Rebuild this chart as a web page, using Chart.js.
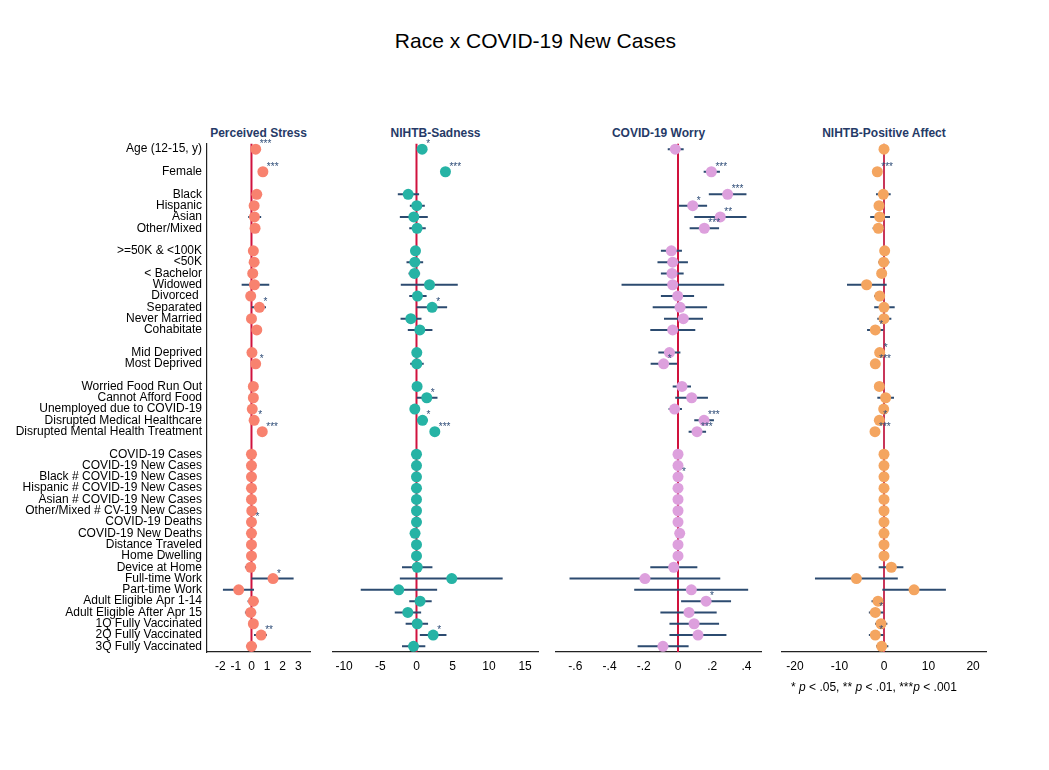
<!DOCTYPE html>
<html>
<head>
<meta charset="utf-8">
<script src="https://cdn.jsdelivr.net/npm/chart.js@4"></script>
<style>
  body { margin: 0; background: #fff; font-family: "Liberation Sans", Arial, sans-serif; }
  #wrap { position: relative; width: 1049px; height: 770px; }
  canvas { position: absolute; top: 138px; }
  .main-title { position: absolute; top: 29px; left: 0; width: 1071px; text-align: center; font-size: 21px; color: #000; }
  .ptitle { position: absolute; top: 126px; text-align: center; font-weight: bold; font-size: 12px; color: #263a67; }
  .note { position: absolute; top: 680px; left: 774px; width: 200px; text-align: center; font-size: 12px; color: #000; }
</style>
</head>
<body>
<div id="wrap">
  <div class="main-title">Race x COVID-19 New Cases</div>
  <div class="ptitle" style="left:207px;width:103px">Perceived Stress</div>
  <div class="ptitle" style="left:333px;width:205px">NIHTB-Sadness</div>
  <div class="ptitle" style="left:556px;width:205px">COVID-19 Worry</div>
  <div class="ptitle" style="left:782px;width:204px">NIHTB-Positive Affect</div>
  <canvas id="c1" width="320" height="545" style="left:0px"></canvas>
  <canvas id="c2" width="220" height="545" style="left:325px"></canvas>
  <canvas id="c3" width="220" height="545" style="left:548px"></canvas>
  <canvas id="c4" width="220" height="545" style="left:774px"></canvas>
  <div class="note">* <i>p</i> &lt; .05, ** <i>p</i> &lt; .01, ***<i>p</i> &lt; .001</div>
</div>
<script>
// row labels, '' = spacer row between groups
const rowLabels = [
  'Age (12-15, y)', '', 'Female', '',
  'Black', 'Hispanic', 'Asian', 'Other/Mixed', '',
  '>=50K & <100K', '<50K', '< Bachelor', 'Widowed', 'Divorced ', 'Separated', 'Never Married', 'Cohabitate', '',
  'Mid Deprived', 'Most Deprived', '',
  'Worried Food Run Out', 'Cannot Afford Food', 'Unemployed due to COVID-19', 'Disrupted Medical Healthcare', 'Disrupted Mental Health Treatment', '',
  'COVID-19 Cases', 'COVID-19 New Cases', 'Black # COVID-19 New Cases', 'Hispanic # COVID-19 New Cases', 'Asian # COVID-19 New Cases',
  'Other/Mixed # CV-19 New Cases', 'COVID-19 Deaths', 'COVID-19 New Deaths', 'Distance Traveled', 'Home Dwelling',
  'Device at Home', 'Full-time Work', 'Part-time Work', 'Adult Eligible Apr 1-14', 'Adult Eligible After Apr 15',
  '1Q Fully Vaccinated', '2Q Fully Vaccinated', '3Q Fully Vaccinated'
];

// Perceived Stress
const stressEst = [
  0.27, null, 0.73, null,
  0.34, 0.17, 0.19, 0.23, null,
  0.12, 0.17, 0.08, 0.19, -0.05, 0.51, 0.00, 0.34, null,
  0.03, 0.27, null,
  0.12, 0.12, 0.05, 0.17, 0.69, null,
  0.00, 0.00, 0.00, 0.00, 0.00, 0.02, 0.00, 0.00, 0.00, 0.00,
  -0.05, 1.38, -0.82, 0.12, -0.05, 0.12, 0.62, 0.00
];
const stressLo = [
  0.15, null, 0.60, null,
  0.10, -0.05, -0.21, 0.00, null,
  -0.05, -0.08, -0.12, -0.63, -0.25, 0.01, -0.20, 0.05, null,
  -0.12, 0.05, null,
  -0.10, -0.10, -0.12, 0.00, 0.45, null,
  -0.03, -0.03, -0.03, -0.03, -0.03, -0.01, -0.03, -0.03, -0.03, -0.03,
  -0.42, 0.00, -1.83, -0.25, -0.42, -0.15, 0.16, -0.33
];
const stressHi = [
  0.39, null, 0.86, null,
  0.58, 0.39, 0.62, 0.46, null,
  0.29, 0.42, 0.28, 1.14, 0.15, 0.93, 0.20, 0.60, null,
  0.18, 0.49, null,
  0.34, 0.34, 0.22, 0.34, 0.93, null,
  0.03, 0.03, 0.03, 0.03, 0.03, 0.05, 0.03, 0.03, 0.03, 0.03,
  0.23, 2.70, 0.16, 0.44, 0.30, 0.39, 0.99, 0.34
];
const stressStars = [
  '***', '', '***', '',
  '', '', '', '', '',
  '', '', '', '', '', '*', '', '', '',
  '', '*', '',
  '', '', '', '*', '***', '',
  '', '', '', '', '', '', '*', '', '', '',
  '', '*', '', '', '', '', '**', ''
];

// NIHTB-Sadness
const sadEst = [
  0.78, null, 4.00, null,
  -1.15, 0.04, -0.37, 0.08, null,
  -0.14, -0.23, -0.28, 1.80, 0.13, 2.16, -0.78, 0.46, null,
  0.04, 0.04, null,
  0.08, 1.42, -0.23, 0.83, 2.53, null,
  0.00, 0.00, 0.00, 0.00, 0.00, 0.00, 0.00, -0.20, 0.00, 0.00,
  0.10, 4.87, -2.45, 0.50, -1.20, 0.10, 2.30, -0.41
];
const sadLo = [
  0.30, null, 3.40, null,
  -2.58, -0.92, -2.30, -1.00, null,
  -0.60, -1.38, -1.10, -2.17, -1.00, 0.00, -2.20, -1.20, null,
  -0.50, -0.87, null,
  -0.40, 0.04, -0.70, 0.10, 1.90, null,
  -0.10, -0.10, -0.10, -0.10, -0.10, -0.10, -0.10, -0.30, -0.10, -0.10,
  -2.00, -2.30, -7.70, -1.00, -3.00, -1.50, 0.46, -2.00
];
const sadHi = [
  1.26, null, 4.60, null,
  0.36, 1.15, 1.56, 1.28, null,
  0.35, 0.92, 0.50, 5.70, 1.40, 4.23, 0.69, 2.20, null,
  0.55, 1.00, null,
  0.60, 2.90, 0.30, 1.55, 3.20, null,
  0.10, 0.10, 0.10, 0.10, 0.10, 0.10, 0.10, -0.10, 0.10, 0.10,
  2.20, 11.90, 2.85, 2.10, 0.64, 1.60, 4.14, 1.22
];
const sadStars = [
  '*', '', '***', '',
  '', '', '', '', '',
  '', '', '', '', '', '*', '', '', '',
  '', '', '',
  '', '*', '', '*', '***', '',
  '', '', '', '', '', '', '', '', '', '',
  '', '', '', '', '', '', '*', ''
];

// COVID-19 Worry
const worryEst = [
  -0.016, null, 0.195, null,
  0.290, 0.086, 0.247, 0.154, null,
  -0.039, -0.031, -0.035, -0.031, -0.002, 0.012, 0.031, -0.031, null,
  -0.050, -0.084, null,
  0.023, 0.080, -0.020, 0.152, 0.111, null,
  0.000, 0.000, 0.000, 0.000, 0.000, 0.000, 0.000, 0.010, 0.000, 0.000,
  -0.025, -0.193, 0.078, 0.164, 0.064, 0.094, 0.117, -0.088
];
const worryLo = [
  -0.060, null, 0.150, null,
  0.180, 0.006, 0.095, 0.068, null,
  -0.100, -0.120, -0.100, -0.330, -0.100, -0.148, -0.082, -0.162, null,
  -0.115, -0.160, null,
  -0.031, -0.016, -0.055, 0.095, 0.062, null,
  -0.010, -0.010, -0.010, -0.010, -0.010, -0.010, -0.010, 0.000, -0.010, -0.010,
  -0.162, -0.634, -0.256, 0.018, -0.103, -0.050, -0.050, -0.236
];
const worryHi = [
  0.033, null, 0.245, null,
  0.400, 0.170, 0.400, 0.240, null,
  0.023, 0.058, 0.033, 0.270, 0.094, 0.170, 0.146, 0.101, null,
  0.014, -0.006, null,
  0.076, 0.175, 0.023, 0.210, 0.164, null,
  0.010, 0.010, 0.010, 0.010, 0.010, 0.010, 0.010, 0.020, 0.010, 0.010,
  0.113, 0.247, 0.410, 0.310, 0.226, 0.240, 0.283, 0.062
];
const worryStars = [
  '', '', '***', '',
  '***', '*', '**', '***', '',
  '', '', '', '', '', '', '', '', '',
  '', '*', '',
  '', '', '', '***', '***', '',
  '', '', '*', '', '', '', '', '', '', '',
  '', '', '', '*', '', '', '', ''
];

// NIHTB-Positive Affect
const posEst = [
  0.00, null, -1.50, null,
  -0.15, -1.12, -0.97, -1.27, null,
  0.15, -0.07, -0.52, -3.90, -0.97, 0.00, 0.00, -1.95, null,
  -0.97, -1.95, null,
  -1.05, 0.37, -0.07, -1.05, -2.02, null,
  0.00, 0.00, 0.00, 0.00, 0.00, 0.00, 0.00, 0.00, 0.00, 0.00,
  1.65, -6.20, 6.75, -1.35, -1.95, -0.67, -1.95, -0.52
];
const posLo = [
  -0.80, null, -2.20, null,
  -1.80, -1.90, -3.10, -2.55, null,
  -0.60, -1.27, -1.30, -8.30, -2.20, -2.20, -1.50, -3.80, null,
  -1.80, -2.80, null,
  -1.80, -1.50, -0.90, -1.90, -2.90, null,
  -0.20, -0.20, -0.20, -0.20, -0.20, -0.20, -0.20, -0.20, -0.20, -0.20,
  -1.20, -15.50, -0.37, -2.80, -3.40, -2.00, -3.40, -1.80
];
const posHi = [
  0.80, null, -0.80, null,
  1.50, -0.30, 1.35, 0.00, null,
  0.90, 1.20, 0.30, 0.60, 0.22, 2.40, 1.65, -0.15, null,
  -0.15, -1.10, null,
  -0.30, 2.25, 0.80, -0.20, -1.10, null,
  0.20, 0.20, 0.20, 0.20, 0.20, 0.20, 0.20, 0.20, 0.20, 0.20,
  4.35, 3.10, 13.90, 0.00, -0.15, 0.75, -0.15, 0.97
];
const posStars = [
  '', '', '***', '',
  '', '', '', '', '',
  '', '', '', '', '', '', '', '*', '',
  '*', '***', '',
  '', '', '', '*', '***', '',
  '', '', '', '', '', '', '', '', '', '',
  '', '', '', '', '*', '', '*', ''
];

// x tick values and labels
const stressTicks = [-2, -1, 0, 1, 2, 3];
const stressTickLabels = ['-2', '-1', '0', '1', '2', '3'];
const sadTicks = [-10, -5, 0, 5, 10, 15];
const sadTickLabels = ['-10', '-5', '0', '5', '10', '15'];
const worryTicks = [-0.6, -0.4, -0.2, 0, 0.2, 0.4];
const worryTickLabels = ['-.6', '-.4', '-.2', '0', '.2', '.4'];
const posTicks = [-20, -10, 0, 10, 20];
const posTickLabels = ['-20', '-10', '0', '10', '20'];

const FONT = '"Liberation Sans", Arial, sans-serif';

function starPlugin(est, stars) {
  return {
    id: 'stars',
    afterDatasetsDraw(chart) {
      const { ctx, scales: { x, y } } = chart;
      ctx.save();
      ctx.font = '10px ' + FONT;
      ctx.fillStyle = '#2f4d78';
      ctx.textAlign = 'left';
      ctx.textBaseline = 'alphabetic';
      stars.forEach((s, i) => {
        if (!s) return;
        ctx.fillText(s, x.getPixelForValue(est[i]) + 4, y.getPixelForValue(i) - 2);
      });
      ctx.restore();
    }
  };
}

function buildPanel(id, p) {
  const pts = [];
  const ci = [];
  rowLabels.forEach((lab, i) => {
    if (p.est[i] === null) return;
    pts.push({ x: p.est[i], y: i });
    ci.push({ x: p.lo[i], y: i }, { x: p.hi[i], y: i }, { x: null, y: null });
  });

  return new Chart(document.getElementById(id), {
    type: 'scatter',
    data: {
      datasets: [
        {
          data: pts,
          backgroundColor: p.color,
          borderWidth: 0,
          pointRadius: 5.5,
          pointHoverRadius: 5.5,
          order: 0
        },
        {
          data: ci,
          showLine: true,
          spanGaps: false,
          borderColor: '#2c4b70',
          borderWidth: 2,
          pointRadius: 0,
          order: 1
        },
        {
          data: [{ x: 0, y: -0.5 }, { x: 0, y: 44.5 }],
          showLine: true,
          borderColor: p.zeroColor,
          borderWidth: 2,
          pointRadius: 0,
          order: 2
        }
      ]
    },
    options: {
      responsive: false,
      animation: false,
      events: [],
      layout: { padding: { top: 5, left: p.padLeft, right: p.padRight, bottom: 0 } },
      plugins: {
        legend: { display: false },
        tooltip: { enabled: false }
      },
      scales: {
        x: {
          type: 'linear',
          min: p.xMin,
          max: p.xMax,
          grid: { display: false, drawTicks: false },
          border: { display: true, color: '#222', width: 1.2 },
          afterBuildTicks: axis => { axis.ticks = p.ticks.map(v => ({ value: v })); },
          afterFit: axis => { axis.height = 31; axis.paddingLeft = 0; axis.paddingRight = 0; },
          ticks: {
            autoSkip: false,
            maxRotation: 0,
            padding: 7,
            color: '#000',
            font: { family: FONT, size: 12 },
            callback: v => p.tickLabels[p.ticks.indexOf(v)]
          }
        },
        y: {
          type: 'linear',
          reverse: true,
          min: -0.5,
          max: 44.5,
          display: p.showY,
          grid: { display: false, drawTicks: false },
          border: { display: true, color: '#222', width: 1.2 },
          afterBuildTicks: axis => {
            axis.ticks = rowLabels.map((l, i) => ({ value: i })).filter(t => rowLabels[t.value] !== '');
          },
          afterFit: axis => {
            if (p.showY) axis.width = 207;
            axis.paddingTop = 0;
            axis.paddingBottom = 0;
          },
          ticks: {
            autoSkip: false,
            padding: 5,
            color: '#000',
            font: { family: FONT, size: 12 },
            callback: v => rowLabels[v]
          }
        }
      }
    },
    plugins: [starPlugin(p.est, p.stars)]
  });
}

buildPanel('c1', {
  est: stressEst, lo: stressLo, hi: stressHi, stars: stressStars,
  color: '#f8826f', zeroColor: '#d0123e',
  xMin: -2.85, xMax: 3.75, ticks: stressTicks, tickLabels: stressTickLabels,
  showY: true, padLeft: 0, padRight: 10
});
buildPanel('c2', {
  est: sadEst, lo: sadLo, hi: sadHi, stars: sadStars,
  color: '#26b3a5', zeroColor: '#d0123e',
  xMin: -11.53, xMax: 16.78, ticks: sadTicks, tickLabels: sadTickLabels,
  showY: false, padLeft: 8, padRight: 7
});
buildPanel('c3', {
  est: worryEst, lo: worryLo, hi: worryHi, stars: worryStars,
  color: '#dda0dd', zeroColor: '#d0123e',
  xMin: -0.713, xMax: 0.485, ticks: worryTicks, tickLabels: worryTickLabels,
  showY: false, padLeft: 8, padRight: 7
});
buildPanel('c4', {
  est: posEst, lo: posLo, hi: posHi, stars: posStars,
  color: '#f4a560', zeroColor: '#c8365a',
  xMin: -22.9, xMax: 22.9, ticks: posTicks, tickLabels: posTickLabels,
  showY: false, padLeft: 8, padRight: 8
});
</script>
</body>
</html>
